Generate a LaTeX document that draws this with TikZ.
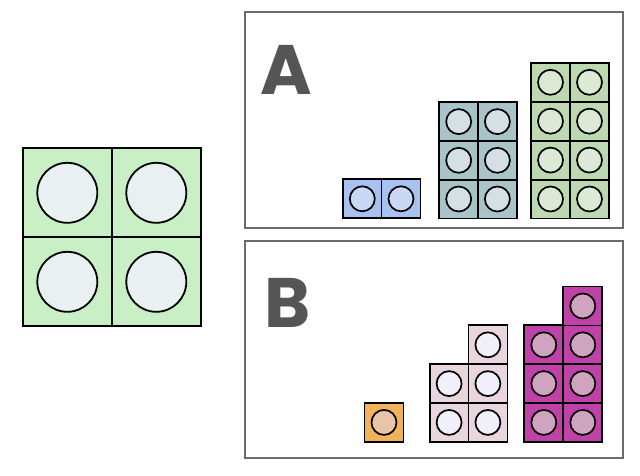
\documentclass[tikz,border=0pt]{standalone}
\usepackage{fontspec}
\setsansfont{Poppins}
\usepackage{tikz}

\definecolor{bigbox}{HTML}{C8F0C4}
\definecolor{bigstud}{HTML}{E8F0F2}
\definecolor{bluebox}{HTML}{A9C1F0}
\definecolor{bluestud}{HTML}{C9D9F5}
\definecolor{tealbox}{HTML}{A9C4C8}
\definecolor{tealstud}{HTML}{D4E0E4}
\definecolor{greenbox}{HTML}{BCD9B1}
\definecolor{greenstud}{HTML}{DCEAD5}
\definecolor{orangebox}{HTML}{F2B25A}
\definecolor{orangestud}{HTML}{E9C4A8}
\definecolor{pinkbox}{HTML}{E8D5DD}
\definecolor{pinkstud}{HTML}{F1EFFA}
\definecolor{magbox}{HTML}{C042A8}
\definecolor{magstud}{HTML}{CFA4C0}
\definecolor{framegray}{HTML}{6B6B6B}
\definecolor{lettergray}{HTML}{555555}

\begin{document}
\begin{tikzpicture}[x=1pt, y=-1pt,
    cell/.style={draw=black, line width=1.8pt, minimum size=39pt, inner sep=0pt},
    stud/.style={circle, draw=black, line width=1.7pt, minimum size=25pt, inner sep=0pt},
    bigcell/.style={draw=black, line width=1.8pt, minimum size=89pt, inner sep=0pt, fill=bigbox},
    bigstud/.style={circle, draw=black, line width=1.8pt, minimum size=60pt, inner sep=0pt, fill=bigstud},
    panel/.style={draw=framegray, line width=1.8pt},
    letter/.style={text=lettergray, font=\sffamily\bfseries\fontsize{70}{70}\selectfont, inner sep=0pt, anchor=base}]
    \useasboundingbox (0,0) rectangle (640,475);

    % Big 2x2 block
    \foreach \i in {0,1}
      \foreach \j in {0,1} {
        \node[bigcell] (big\i\j) at ({67.3+89*\i},{192.8+89*\j}) {};
        \node[bigstud] (bigs\i\j) at (big\i\j) {};
      }

    % Panels
    \draw[panel] (245,11.7) rectangle (622.7,228.3);
    \draw[panel] (245,240.7) rectangle (622.7,457.7);
    \node[letter] (labA) at (286.3,94.3) {A};
    \node[letter] (labB) at (287.5,327.7) {B};

    % Panel A: blue 2x1
    \foreach \i in {0,1} {
        \node[cell, fill=bluebox] (b\i) at ({362.3+38.7*\i},198.8) {};
        \node[stud, fill=bluestud] (bs\i) at (b\i) {};
    }
    % Panel A: teal 2x3
    \foreach \i in {0,1}
      \foreach \j in {0,1,2} {
        \node[cell, fill=tealbox] (t\i\j) at ({458.7+38.7*\i},{199-38.7*\j}) {};
        \node[stud, fill=tealstud] (ts\i\j) at (t\i\j) {};
      }
    % Panel A: green 2x4
    \foreach \i in {0,1}
      \foreach \j in {0,...,3} {
        \node[cell, fill=greenbox] (g\i\j) at ({550.5+39*\i},{199-38.9*\j}) {};
        \node[stud, fill=greenstud] (gs\i\j) at (g\i\j) {};
      }

    % Panel B: orange single
    \node[cell, fill=orangebox] (o) at (384,422.4) {};
    \node[stud, fill=orangestud] (os) at (o) {};
    % Panel B: light pink 2+3
    \foreach \i/\n in {0/1,1/2}
      \foreach \j in {0,...,\n} {
        \node[cell, fill=pinkbox] (p\i\j) at ({449.1+38.8*\i},{422.4-38.8*\j}) {};
        \node[stud, fill=pinkstud] (ps\i\j) at (p\i\j) {};
      }
    % Panel B: magenta 3+4
    \foreach \i/\n in {0/2,1/3}
      \foreach \j in {0,...,\n} {
        \node[cell, fill=magbox] (m\i\j) at ({543.8+39*\i},{422.4-38.8*\j}) {};
        \node[stud, fill=magstud] (ms\i\j) at (m\i\j) {};
      }
\end{tikzpicture}
\end{document}
